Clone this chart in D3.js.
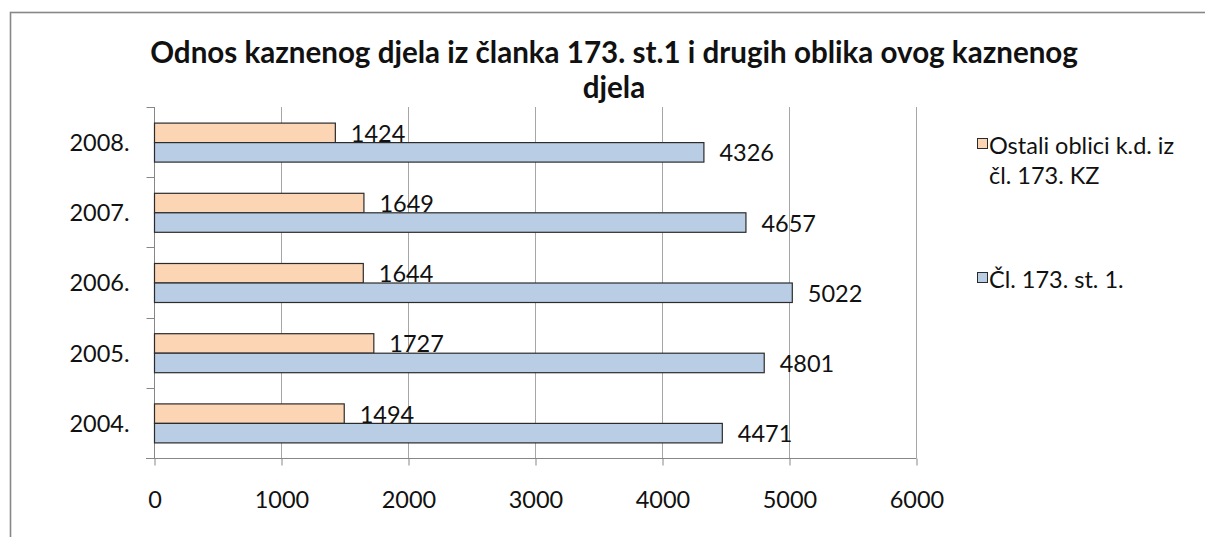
<!DOCTYPE html>
<html>
<head>
<meta charset="utf-8">
<script src="https://cdn.jsdelivr.net/npm/d3@7"></script>
<style>
  html, body { margin: 0; padding: 0; background: #fff; }
  svg { display: block; }
  text { font-family: Lato, "Open Sans", sans-serif; fill: #111; }
</style>
</head>
<body>
<svg id="chart" width="1205" height="537"></svg>
<script>
const categories = ["2004.", "2005.", "2006.", "2007.", "2008."];
const seriesNames = ["Ostali oblici k.d. iz čl. 173. KZ", "Čl. 173. st. 1."];
const ostaliValues = [1494, 1727, 1644, 1649, 1424];
const clanakValues = [4471, 4801, 5022, 4657, 4326];
const xTicks = [0, 1000, 2000, 3000, 4000, 5000, 6000];
const titleLines = ["Odnos kaznenog djela iz članka 173. st.1 i drugih oblika ovog kaznenog", "djela"];
const legendLines = [["Ostali oblici k.d. iz", "čl. 173. KZ"], ["Čl. 173. st. 1."]];
const colors = ["#FCD5B5", "#B9CDE5"];

const FS = 23.5;
const svg = d3.select("#chart");

// outer chart border (extends past right and bottom edges)
svg.append("rect")
  .attr("x", 10.5).attr("y", 12.5)
  .attr("width", 1300).attr("height", 600)
  .attr("fill", "none").attr("stroke", "#878787").attr("stroke-width", 1.6);

const plot = { left: 154, right: 916, top: 107, bottom: 458 };

const x = d3.scaleLinear().domain([0, 6000]).range([plot.left, plot.right]);
const y0 = d3.scaleBand().domain(categories.slice().reverse()).range([plot.top, plot.bottom]).padding(0);
const pairH = 39;
const y1 = d3.scaleBand().domain(seriesNames).range([0, pairH]).padding(0);
const off = (y0.bandwidth() - pairH) / 2;

// gridlines
svg.append("g").selectAll("line").data(xTicks.slice(1)).join("line")
  .attr("x1", d => Math.round(x(d)) + 0.5).attr("x2", d => Math.round(x(d)) + 0.5)
  .attr("y1", plot.top).attr("y2", plot.bottom)
  .attr("stroke", "#a6a6a6").attr("stroke-width", 1);

// bottom axis
const xAxis = d3.axisBottom(x).tickValues(xTicks).tickSize(7).tickFormat(d3.format("d")).tickPadding(26);
const gx = svg.append("g").attr("transform", `translate(0.5,${plot.bottom + 0.5})`).call(xAxis);
gx.select(".domain").attr("d", `M${plot.left - 8 - 0.5},0H${plot.right}`).attr("stroke", "#878787");
gx.selectAll(".tick line").attr("stroke", "#878787");
gx.selectAll(".tick text").attr("font-size", FS).attr("font-family", "Lato, sans-serif").attr("fill", "#111");

// left axis
const yAxis = d3.axisLeft(y0).tickSize(0).tickPadding(25);
const gy = svg.append("g").attr("transform", `translate(${plot.left + 0.5},0)`).call(yAxis);
gy.select(".domain").attr("d", `M0,${plot.top}V${plot.bottom}`).attr("stroke", "#878787");
gy.selectAll(".tick text").attr("font-size", FS).attr("font-family", "Lato, sans-serif").attr("fill", "#111").attr("dy", "0.38em");
// category boundary ticks
const bounds = categories.map((c, i) => plot.top + i * y0.bandwidth()).concat([plot.bottom]);
gy.append("g").selectAll("line").data(bounds).join("line")
  .attr("x1", -8).attr("x2", 0)
  .attr("y1", d => Math.round(d) + 0.5).attr("y2", d => Math.round(d) + 0.5)
  .attr("stroke", "#878787");

// bars
const rows = categories.map((c, i) => ({ cat: c, vals: [ostaliValues[i], clanakValues[i]] }));
const groups = svg.append("g").selectAll("g").data(rows).join("g")
  .attr("transform", d => `translate(0,${y0(d.cat) + off})`);
groups.selectAll("rect").data(d => d.vals.map((v, k) => ({ v, k }))).join("rect")
  .attr("x", x(0) + 0.5)
  .attr("y", d => y1(seriesNames[d.k]) + 0.5)
  .attr("width", d => x(d.v) - x(0))
  .attr("height", y1.bandwidth())
  .attr("fill", d => colors[d.k])
  .attr("stroke", "#2b2b2b").attr("stroke-width", 1.2);
groups.selectAll("text").data(d => d.vals.map((v, k) => ({ v, k }))).join("text")
  .attr("x", d => x(d.v) + 16)
  .attr("y", d => y1(seriesNames[d.k]) + y1.bandwidth() / 2 + 1)
  .attr("dy", "0.36em")
  .attr("font-size", FS)
  .text(d => d.v);

// title
svg.append("g").selectAll("text").data(titleLines).join("text")
  .attr("x", 614).attr("y", (d, i) => 63 + i * 35)
  .attr("text-anchor", "middle")
  .attr("font-weight", "bold").attr("font-size", 26)
  .text(d => d)
  .each(function (d, i) {
    if (i === 0) {
      const w = this.getComputedTextLength();
      const fs = 26 * 928 / w;
      d3.select(this.parentNode).selectAll("text").attr("font-size", fs);
    }
  });

// legend
const legendY = [154, 288];
const lg = svg.append("g").selectAll("g").data(legendLines).join("g")
  .attr("transform", (d, i) => `translate(977,${legendY[i]})`);
lg.append("rect").attr("x", 0.5).attr("y", -15.5).attr("width", 10).attr("height", 10)
  .attr("fill", (d, i) => colors[i]).attr("stroke", "#2b2b2b").attr("stroke-width", 1);
lg.selectAll("text").data(d => d).join("text")
  .attr("x", 12).attr("y", (d, j) => j * 30)
  .attr("font-size", FS)
  .text(d => d);
</script>
</body>
</html>
